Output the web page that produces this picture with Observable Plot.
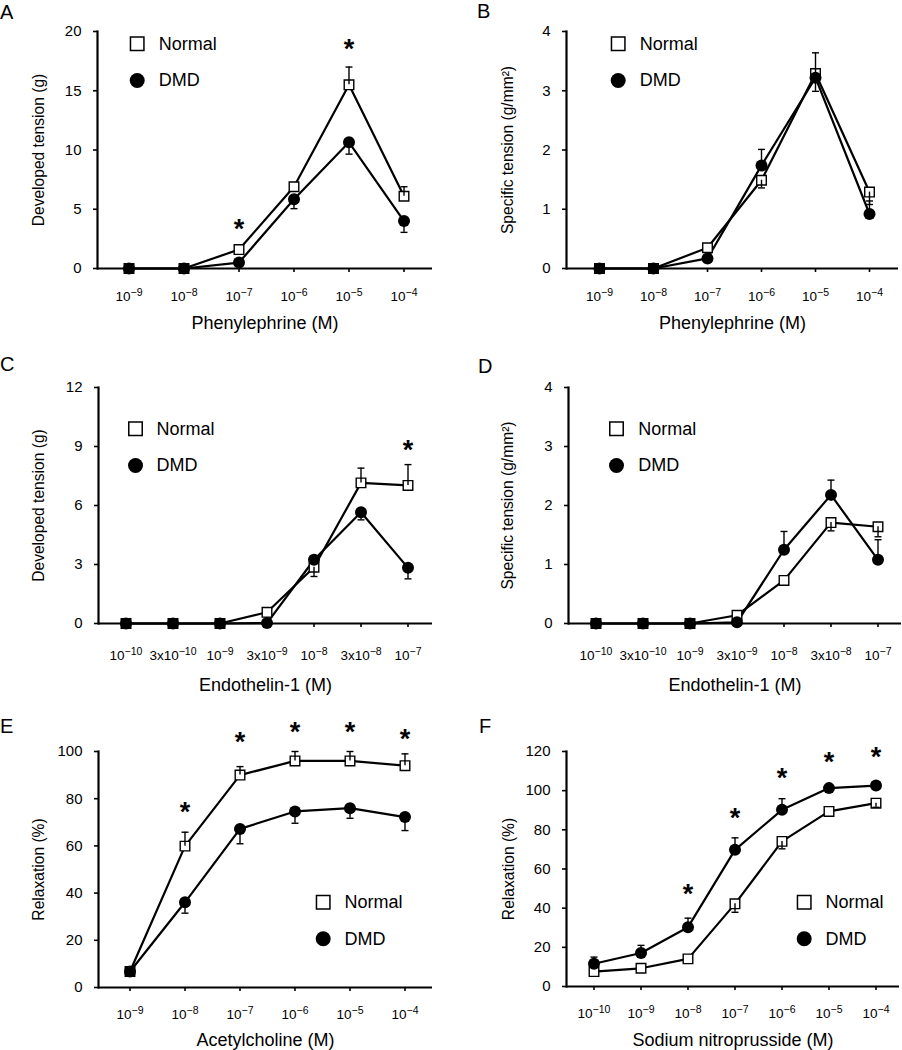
<!DOCTYPE html>
<html>
<head>
<meta charset="utf-8">
<script src="https://cdn.jsdelivr.net/npm/d3@7"></script>
<script src="https://cdn.jsdelivr.net/npm/@observablehq/plot@0.6"></script>
<style>
  body { margin: 0; background: white; }
  #fig { position: relative; width: 902px; height: 1050px; background: white; font-family: 'Liberation Sans', Arial, Helvetica, sans-serif; }
  .panel { position: absolute; }
  .letter { position: absolute; font-size: 20px; line-height: 20px; color: black; }
</style>
</head>
<body>
<div id="fig"></div>
<script>
// ---------------- data ----------------
const catsPE  = ["10^-9", "10^-8", "10^-7", "10^-6", "10^-5", "10^-4"];
const catsET  = ["10^-10", "3x10^-10", "10^-9", "3x10^-9", "10^-8", "3x10^-8", "10^-7"];
const catsACh = ["10^-9", "10^-8", "10^-7", "10^-6", "10^-5", "10^-4"];
const catsSNP = ["10^-10", "10^-9", "10^-8", "10^-7", "10^-6", "10^-5", "10^-4"];

// A: developed tension, phenylephrine (g)
const aNormal    = [0, 0, 1.6, 6.9, 15.5, 6.1];
const aNormalErr = [null, null, null, null, 17.0, 6.9];
const aDMD       = [0, 0, 0.5, 5.85, 10.65, 4.0];
const aDMDErr    = [null, null, null, 5.05, 9.65, 3.05];
const aStars     = [null, null, 3.77, null, 19.0, null];
const aYTicks    = [0, 5, 10, 15, 20];

// B: specific tension, phenylephrine (g/mm2)
const bNormal    = [0, 0, 0.35, 1.49, 3.29, 1.29];
const bNormalErr = [null, null, null, 1.36, 3.64, 1.08];
const bDMD       = [0, 0, 0.17, 1.74, 3.22, 0.92];
const bDMDErr    = [null, null, null, 2.01, 2.99, 1.14];
const bStars     = [null, null, null, null, null, null];
const bYTicks    = [0, 1, 2, 3, 4];

// C: developed tension, endothelin-1 (g)
const cNormal    = [0, 0, 0, 0.57, 2.86, 7.15, 7.02];
const cNormalErr = [null, null, null, null, 2.39, 7.9, 8.08];
const cDMD       = [0, 0, 0, 0.02, 3.24, 5.66, 2.83];
const cDMDErr    = [null, null, null, null, null, 5.27, 2.27];
const cStars     = [null, null, null, null, null, null, 9.13];
const cYTicks    = [0, 3, 6, 9, 12];

// D: specific tension, endothelin-1 (g/mm2)
const dNormal    = [0, 0, 0, 0.14, 0.73, 1.71, 1.64];
const dNormalErr = [null, null, null, null, null, 1.57, 1.47];
const dDMD       = [0, 0, 0, 0.02, 1.25, 2.18, 1.08];
const dDMDErr    = [null, null, null, null, 1.56, 2.43, 1.42];
const dStars     = [null, null, null, null, null, null, null];
const dYTicks    = [0, 1, 2, 3, 4];

// E: relaxation, acetylcholine (%)
const eNormal    = [6.8, 59.9, 90.0, 96.0, 96.0, 94.0];
const eNormalErr = [null, 65.8, 93.6, 100, 100, 99];
const eDMD       = [6.8, 36.1, 67.2, 74.6, 76.0, 72.2];
const eDMDErr    = [null, 31.5, 60.9, 69.6, 71.7, 66.5];
const eStars     = [null, 76.7, 106.4, 110.6, 110.6, 107.8];
const eYTicks    = [0, 20, 40, 60, 80, 100];

// F: relaxation, sodium nitroprusside (%)
const fNormal    = [7.6, 9.3, 14.1, 42.2, 74.1, 89.4, 93.6];
const fNormalErr = [null, null, null, 37.9, 70.3, null, 91.5];
const fDMD       = [11.6, 17.1, 30.3, 69.8, 90.2, 101.3, 102.6];
const fDMDErr    = [15.0, 21.0, 34.9, 75.9, 95.9, null, null];
const fStars     = [null, null, 49.9, 89.0, 109.4, 117.4, 120.0];
const fYTicks    = [0, 20, 40, 60, 80, 100, 120];

const seriesNames = ["Normal", "DMD"];

// ---------------- drawing ----------------
const FONT = "'Liberation Sans', Arial, Helvetica, sans-serif";
const capSymbol = {
  draw(ctx, size) {
    const r = Math.sqrt(size / Math.PI);
    ctx.moveTo(-r, 0);
    ctx.lineTo(r, 0);
  }
};

function fixTickText(svg) {
  const ns = "http://www.w3.org/2000/svg";
  svg.querySelectorAll('g[aria-label="x-axis tick label"] text').forEach(t => {
    const s = t.textContent;
    const parts = s.split("^");
    if (parts.length < 2) return;
    t.textContent = "";
    const a = document.createElementNS(ns, "tspan");
    a.textContent = parts[0];
    t.appendChild(a);
    const b = document.createElementNS(ns, "tspan");
    b.textContent = parts[1].replace("-", "\u2212");
    b.setAttribute("dy", "-4.8");
    b.setAttribute("font-size", "10.5");
    t.appendChild(b);
  });
}

function panel(cfg) {
  const rows = (vals, errs, group) => cfg.cats.map((c, i) => ({cat: c, group, value: vals[i], err: errs[i]}));
  const normalRows = rows(cfg.normal, cfg.normalErr, seriesNames[0]);
  const dmdRows = rows(cfg.dmd, cfg.dmdErr, seriesNames[1]);
  const errRows = normalRows.concat(dmdRows).filter(d => d.err != null);
  const starRows = cfg.cats.map((c, i) => ({cat: c, star: cfg.stars[i]})).filter(d => d.star != null);
  const lg = cfg.legend;

  const svg = Plot.plot({
    width: 451,
    height: cfg.height,
    marginTop: cfg.margin.t,
    marginBottom: cfg.margin.b,
    marginLeft: cfg.margin.l,
    marginRight: cfg.margin.r,
    style: {fontFamily: FONT, fontSize: "15px", color: "black", background: "transparent", overflow: "visible"},
    x: {type: "band", domain: cfg.cats, padding: 0, insetLeft: 3, axis: null},
    y: {domain: cfg.yDomain, axis: null},
    marks: [
      Plot.axisY({ticks: cfg.yTicks, tickSize: 4, tickPadding: 12, fontSize: 15, strokeWidth: 1.6, label: null, tickFormat: d => String(d)}),
      Plot.axisX({ticks: cfg.cats, tickSize: 4, tickPadding: cfg.tickPad, fontSize: 13.5, strokeWidth: 1.6, label: null, tickFormat: d => d}),
      Plot.ruleY([0], {strokeWidth: 2.2}),
      Plot.frame({anchor: "left", strokeWidth: 2.2}),
      Plot.line(normalRows, {x: "cat", y: "value", stroke: "black", strokeWidth: 2.2}),
      Plot.line(dmdRows, {x: "cat", y: "value", stroke: "black", strokeWidth: 2.2}),
      Plot.dot(normalRows, {x: "cat", y: "value", symbol: "square", r: 5.4, fill: "white", stroke: "black", strokeWidth: 1.4}),
      Plot.dot(dmdRows, {x: "cat", y: "value", r: 6, fill: "black"}),
      Plot.ruleX(errRows, {x: "cat", y1: "value", y2: "err", stroke: "black", strokeWidth: 1.4}),
      Plot.dot(errRows, {x: "cat", y: "err", symbol: capSymbol, r: 3.5, stroke: "black", strokeWidth: 1.4, fill: "none"}),
      Plot.text(starRows, {x: "cat", y: "star", text: () => "*", fontSize: 27, fontWeight: "bold", dy: 6}),
      Plot.text([cfg.xLabel], {text: d => d, frameAnchor: "bottom", lineAnchor: "middle", textAnchor: "middle", dy: cfg.xTitleDy, fontSize: 18}),
      Plot.text([cfg.yLabel], {text: d => d, frameAnchor: "left", lineAnchor: "middle", textAnchor: "middle", rotate: -90, dx: cfg.yTitleDx, fontSize: 15.6}),
      // legend
      Plot.dot([seriesNames[0]], {frameAnchor: "top-left", dx: lg.dx, dy: lg.dy1, symbol: "square", r: 7.6, fill: "white", stroke: "black", strokeWidth: 1.5}),
      Plot.dot([seriesNames[1]], {frameAnchor: "top-left", dx: lg.dx, dy: lg.dy2, r: 7.5, fill: "black"}),
      Plot.text([seriesNames[0]], {text: d => d, frameAnchor: "top-left", dx: lg.tx, dy: lg.dy1, textAnchor: "start", lineAnchor: "middle", fontSize: 18}),
      Plot.text([seriesNames[1]], {text: d => d, frameAnchor: "top-left", dx: lg.tx, dy: lg.dy2, textAnchor: "start", lineAnchor: "middle", fontSize: 18})
    ]
  });
  fixTickText(svg);
  const wrap = document.createElement("div");
  wrap.className = "panel";
  wrap.style.left = cfg.left + "px";
  wrap.style.top = cfg.top + "px";
  wrap.appendChild(svg);
  const letter = document.createElement("div");
  letter.className = "letter";
  letter.textContent = cfg.letter;
  letter.style.left = cfg.letterPos[0] + "px";
  letter.style.top = cfg.letterPos[1] + "px";
  const fig = document.getElementById("fig");
  fig.appendChild(wrap);
  fig.appendChild(letter);
}

panel({letter: "A", left: 0, top: 0, height: 340, margin: {t: 31, b: 72, l: 97, r: 19},
  cats: catsPE, yDomain: [0, 20], yTicks: aYTicks, normal: aNormal, normalErr: aNormalErr, dmd: aDMD, dmdErr: aDMDErr, stars: aStars,
  xLabel: "Phenylephrine (M)", yLabel: "Developed tension (g)", tickPad: 19, xTitleDy: 55, yTitleDx: -59,
  legend: {dx: 39.7, dy1: 12.3, dy2: 49, tx: 61.3}, letterPos: [0, 2]});

panel({letter: "B", left: 451, top: 0, height: 340, margin: {t: 31, b: 72, l: 115, r: 4},
  cats: catsPE, yDomain: [0, 4], yTicks: bYTicks, normal: bNormal, normalErr: bNormalErr, dmd: bDMD, dmdErr: bDMDErr, stars: bStars,
  xLabel: "Phenylephrine (M)", yLabel: "Specific tension (g/mm²)", tickPad: 19, xTitleDy: 55, yTitleDx: -58.5,
  legend: {dx: 51.7, dy1: 12.3, dy2: 49, tx: 73.3}, letterPos: [477, 1]});

panel({letter: "C", left: 0, top: 340, height: 340, margin: {t: 47, b: 57, l: 98, r: 19},
  cats: catsET, yDomain: [0, 12], yTicks: cYTicks, normal: cNormal, normalErr: cNormalErr, dmd: cDMD, dmdErr: cDMDErr, stars: cStars,
  xLabel: "Endothelin-1 (M)", yLabel: "Developed tension (g)", tickPad: 22.5, xTitleDy: 62, yTitleDx: -59.7,
  legend: {dx: 37, dy1: 41.3, dy2: 78, tx: 58}, letterPos: [0, 354]});

panel({letter: "D", left: 451, top: 340, height: 340, margin: {t: 47, b: 57, l: 117, r: 1},
  cats: catsET, yDomain: [0, 4], yTicks: dYTicks, normal: dNormal, normalErr: dNormalErr, dmd: dDMD, dmdErr: dDMDErr, stars: dStars,
  xLabel: "Endothelin-1 (M)", yLabel: "Specific tension (g/mm²)", tickPad: 22.5, xTitleDy: 62, yTitleDx: -60.3,
  legend: {dx: 48, dy1: 41.3, dy2: 78, tx: 69.7}, letterPos: [478, 356]});

panel({letter: "E", left: 0, top: 680, height: 370, margin: {t: 71, b: 63, l: 98, r: 19},
  cats: catsACh, yDomain: [0, 100], yTicks: eYTicks, normal: eNormal, normalErr: eNormalErr, dmd: eDMD, dmdErr: eDMDErr, stars: eStars,
  xLabel: "Acetylcholine (M)", yLabel: "Relaxation (%)", tickPad: 18, xTitleDy: 52.6, yTitleDx: -59.7,
  legend: {dx: 224.7, dy1: 150.7, dy2: 187.3, tx: 246}, letterPos: [0, 716]});

panel({letter: "F", left: 451, top: 680, height: 370, margin: {t: 71, b: 64, l: 115, r: 3},
  cats: catsSNP, yDomain: [0, 120], yTicks: fYTicks, normal: fNormal, normalErr: fNormalErr, dmd: fDMD, dmdErr: fDMDErr, stars: fStars,
  xLabel: "Sodium nitroprusside (M)", yLabel: "Relaxation (%)", tickPad: 18, xTitleDy: 53.3, yTitleDx: -57.7,
  legend: {dx: 237.7, dy1: 150.7, dy2: 187.3, tx: 259}, letterPos: [479, 716]});
</script>
</body>
</html>
